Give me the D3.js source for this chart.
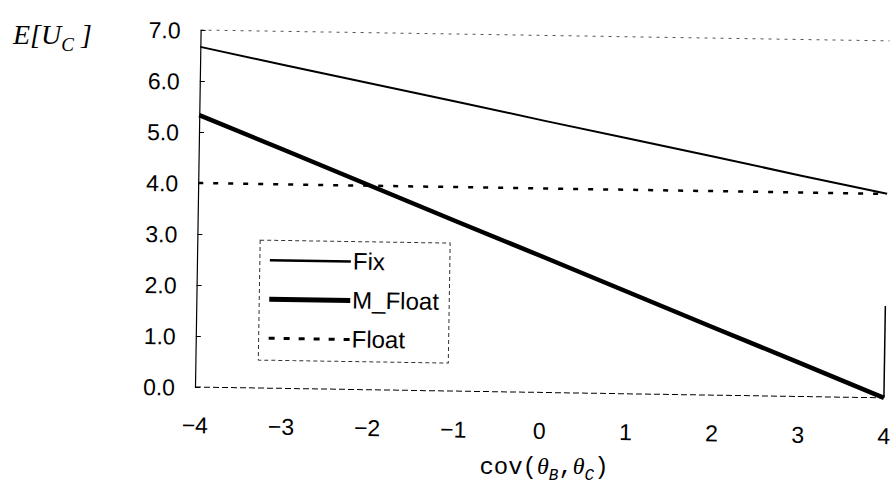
<!DOCTYPE html>
<html>
<head>
<meta charset="utf-8">
<script src="https://cdn.jsdelivr.net/npm/d3@7"></script>
<style>
  body { margin: 0; background: #fff; }
  svg { display: block; }
  .tick text { font-family: "Liberation Sans", Arial, sans-serif; font-size: 23px; fill: #000; }
  .x.axis .tick text { font-size: 23px; }
  .legend text { font-family: "Liberation Sans", Arial, sans-serif; font-size: 24px; }
</style>
</head>
<body>
<div id="svgDiv"></div>
<script>
var margin = {top: 30, right: 9, bottom: 115, left: 195};
var width = 893 - margin.left - margin.right,
    height = 502 - margin.top - margin.bottom;

// covariance values on the x axis
var covs = [-4, -3, -2, -1, 0, 1, 2, 3, 4];
var fix    = [6.67, 6.33, 6.0, 5.67, 5.33, 5.0, 4.67, 4.33, 4.0];
var mFloat = [5.33, 4.67, 4.0, 3.33, 2.67, 2.0, 1.33, 0.67, 0.0];
var float_ = [4.0, 4.0, 4.0, 4.0, 4.0, 4.0, 4.0, 4.0, 4.0];
var yTicks = [0, 1, 2, 3, 4, 5, 6, 7];
var seriesNames = ['Fix', 'M_Float', 'Float'];

var series = [
  {name: seriesNames[0], values: fix,    width: 2,   dash: null},
  {name: seriesNames[1], values: mFloat, width: 4.5, dash: null},
  {name: seriesNames[2], values: float_, width: 2.5, dash: '5,10'}
];

var xScale = d3.scaleLinear().domain([-4, 4]).range([0, width]);
var yScale = d3.scaleLinear().domain([0, 7]).range([height, 0]);

var svg = d3.select('#svgDiv').append('svg')
  .attr('width', 893)
  .attr('height', 502);

// the scanned chart is tilted a little
var g = svg.append('g')
  .attr('transform', 'translate(' + margin.left + ',' + margin.top + ') rotate(0.9,0,' + height + ')');

// plot frame: faint top and right edge
g.append('line')
  .attr('x1', 0).attr('x2', width).attr('y1', 0).attr('y2', 0)
  .style('stroke', '#555').style('stroke-width', 1).style('stroke-dasharray', '3,5');
g.append('line')
  .attr('x1', width).attr('x2', width).attr('y1', yScale(1.8)).attr('y2', height)
  .style('stroke', '#000').style('stroke-width', 1.5);
g.append('line')
  .attr('x1', 0).attr('x2', width).attr('y1', height).attr('y2', height)
  .style('stroke', '#000').style('stroke-width', 1).style('stroke-dasharray', '6,3');

var yAxis = d3.axisLeft(yScale)
  .tickValues(yTicks)
  .tickSizeInner(-5)
  .tickSizeOuter(0)
  .tickPadding(20)
  .tickFormat(d3.format('.1f'));

var xAxis = d3.axisBottom(xScale)
  .tickValues(covs)
  .tickSize(0)
  .tickPadding(30)
  .tickFormat(function(d) { return d < 0 ? '\u2212' + (-d) : d; });

g.append('g').attr('class', 'y axis').call(yAxis)
  .call(function(s) {
    s.select('.domain').style('stroke', '#000').style('stroke-width', 1.2);
    s.selectAll('.tick text').attr('dy', '0.36em');
  });

g.append('g').attr('class', 'x axis')
  .attr('transform', 'translate(0,' + height + ')')
  .call(xAxis)
  .call(function(s) { s.select('.domain').remove(); });

var line = d3.line()
  .x(function(d, i) { return xScale(covs[i]); })
  .y(function(d) { return yScale(d); });

g.selectAll('path.series')
  .data(series)
  .enter()
  .append('path')
  .attr('class', 'series')
  .attr('d', function(d) { return line(d.values); })
  .style('fill', 'none')
  .style('stroke', '#000')
  .style('stroke-width', function(d) { return d.width; })
  .style('stroke-dasharray', function(d) { return d.dash; });

// legend
var legend = g.append('g').attr('class', 'legend')
  .attr('transform', 'translate(' + (xScale(-3.27)) + ',' + yScale(2.9) + ')');

legend.append('rect')
  .attr('width', 190).attr('height', 120)
  .style('fill', '#fff').style('stroke', '#333').style('stroke-width', 1)
  .style('stroke-dasharray', '4,3');

var items = legend.selectAll('g.item')
  .data(series)
  .enter()
  .append('g')
  .attr('class', 'item')
  .attr('transform', function(d, i) { return 'translate(0,' + (20 + i * 39) + ')'; });

items.append('line')
  .attr('x1', 10).attr('x2', 91).attr('y1', 0).attr('y2', 0)
  .style('stroke', '#000')
  .style('stroke-width', function(d) { return d.width + 0.5; })
  .style('stroke-dasharray', function(d) { return d.dash ? '6,9' : null; });

items.append('text')
  .attr('x', 93).attr('y', 8)
  .text(function(d) { return d.name; });

// axis titles
var yTitle = svg.append('text')
  .attr('x', 13).attr('y', 44)
  .style('font-family', '"Liberation Serif", serif')
  .style('font-style', 'italic')
  .style('font-size', '28px');
yTitle.append('tspan').text('E[U');
yTitle.append('tspan').attr('dy', 7).style('font-size', '19px').text('C');
yTitle.append('tspan').attr('dy', -7).text(' ]');

var xTitle = svg.append('text')
  .attr('x', 544).attr('y', 474)
  .attr('text-anchor', 'middle')
  .style('font-family', '"Liberation Mono", monospace')
  .style('font-size', '24px');
xTitle.append('tspan').text('cov(');
xTitle.append('tspan').style('font-style', 'italic').style('font-family', '"Liberation Serif", serif').text('\u03B8');
xTitle.append('tspan').attr('dy', 6).style('font-size', '16px').style('font-style', 'italic').text('B');
xTitle.append('tspan').attr('dy', -6).text(',');
xTitle.append('tspan').style('font-style', 'italic').style('font-family', '"Liberation Serif", serif').text('\u03B8');
xTitle.append('tspan').attr('dy', 6).style('font-size', '16px').style('font-style', 'italic').text('C');
xTitle.append('tspan').attr('dy', -6).text(')');
</script>
</body>
</html>
